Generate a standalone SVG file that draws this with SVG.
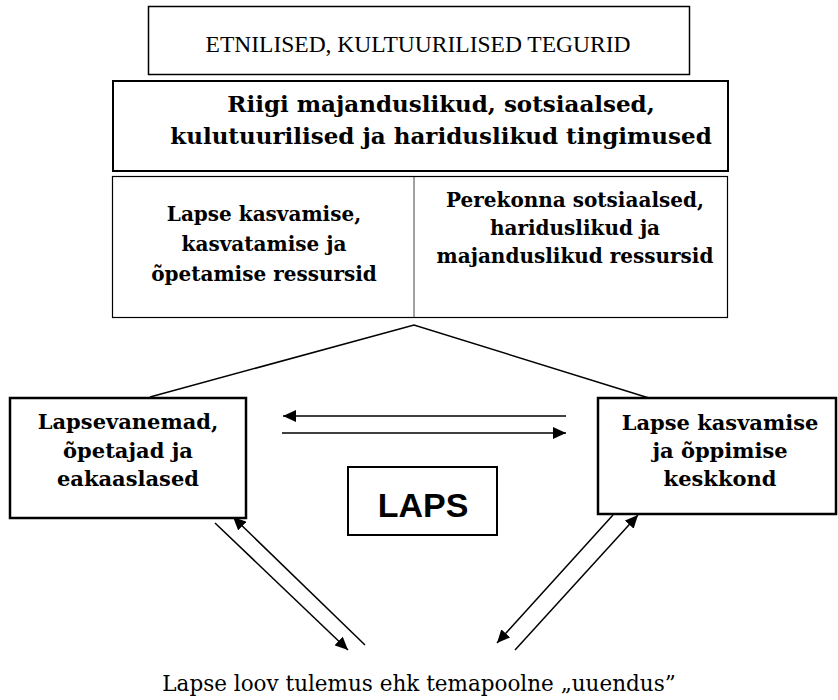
<svg xmlns="http://www.w3.org/2000/svg" width="838" height="700" viewBox="0 0 838 700">
<style>
.box{fill:#fff;stroke:#000}
.b{font-family:"DejaVu Serif","Liberation Serif",serif;font-weight:bold;text-anchor:middle;fill:#000}
.r{font-family:"DejaVu Serif","Liberation Serif",serif;text-anchor:middle;fill:#000}
.t{font-family:"Liberation Serif","Times New Roman",serif;text-anchor:middle;fill:#000}
.c{fill:none;stroke:#000;stroke-width:1.5}
</style>
<defs>
<marker id="ah" markerUnits="userSpaceOnUse" markerWidth="14" markerHeight="12" refX="13" refY="6" orient="auto">
<path d="M0,0 L13,6 L0,12 Z" fill="#000"/>
</marker>
</defs>
<rect width="838" height="700" fill="#fff"/>
<g id="etnilised">
<rect class="box" x="148.5" y="6.5" width="541" height="68" stroke-width="1.5"/>
<text class="t" x="418" y="52" font-size="23.5">ETNILISED, KULTUURILISED TEGURID</text>
</g>
<g id="riigi">
<rect class="box" x="113" y="81" width="615" height="90" stroke-width="2"/>
<text class="b" x="441" y="112" font-size="23">Riigi majanduslikud, sotsiaalsed,</text>
<text class="b" x="441" y="144" font-size="23">kulutuurilised ja hariduslikud tingimused</text>
</g>
<g id="ressursid">
<rect class="box" x="112.5" y="176.5" width="615" height="141" stroke="#444" stroke-width="1.2"/>
<line x1="414" y1="177" x2="414" y2="317" stroke="#444" stroke-width="1"/>
<text class="b" x="264" y="221" font-size="20">Lapse kasvamise,</text>
<text class="b" x="264" y="251" font-size="20">kasvatamise ja</text>
<text class="b" x="264" y="281" font-size="20">õpetamise ressursid</text>
<text class="b" x="575" y="207" font-size="20">Perekonna sotsiaalsed,</text>
<text class="b" x="575" y="235" font-size="20">hariduslikud ja</text>
<text class="b" x="575" y="263" font-size="20">majanduslikud ressursid</text>
</g>
<g id="connectors">
<polyline class="c" points="150,397 414,325 649,398" stroke-width="2"/>
<line class="c" x1="566" y1="416" x2="283" y2="416" marker-end="url(#ah)"/>
<line class="c" x1="282" y1="433" x2="566" y2="433" marker-end="url(#ah)"/>
<line class="c" x1="215" y1="523" x2="348" y2="650" marker-end="url(#ah)"/>
<line class="c" x1="365" y1="645" x2="233" y2="517" marker-end="url(#ah)"/>
<line class="c" x1="613" y1="515" x2="497" y2="643" marker-end="url(#ah)"/>
<line class="c" x1="515" y1="650" x2="638" y2="515" marker-end="url(#ah)"/>
</g>
<g id="lapsevanemad">
<rect class="box" x="10" y="398" width="236" height="120" stroke-width="2.5"/>
<text class="b" x="128" y="429" font-size="21">Lapsevanemad,</text>
<text class="b" x="128" y="458" font-size="21">õpetajad ja</text>
<text class="b" x="128" y="486" font-size="21">eakaaslased</text>
</g>
<g id="keskkond">
<rect class="box" x="598" y="398" width="238" height="116" stroke-width="2.5"/>
<text class="b" x="720" y="430" font-size="21">Lapse kasvamise</text>
<text class="b" x="720" y="458" font-size="21">ja õppimise</text>
<text class="b" x="720" y="486" font-size="21">keskkond</text>
</g>
<g id="laps">
<rect class="box" x="348" y="467" width="149" height="68" stroke-width="2"/>
<text x="423" y="517" font-family="'Liberation Sans',Arial,sans-serif" font-weight="bold" font-size="34" text-anchor="middle">LAPS</text>
</g>
<g id="tulemus">
<text class="r" x="419" y="691" font-size="21.5">Lapse loov tulemus ehk temapoolne „uuendus”</text>
</g>
</svg>
